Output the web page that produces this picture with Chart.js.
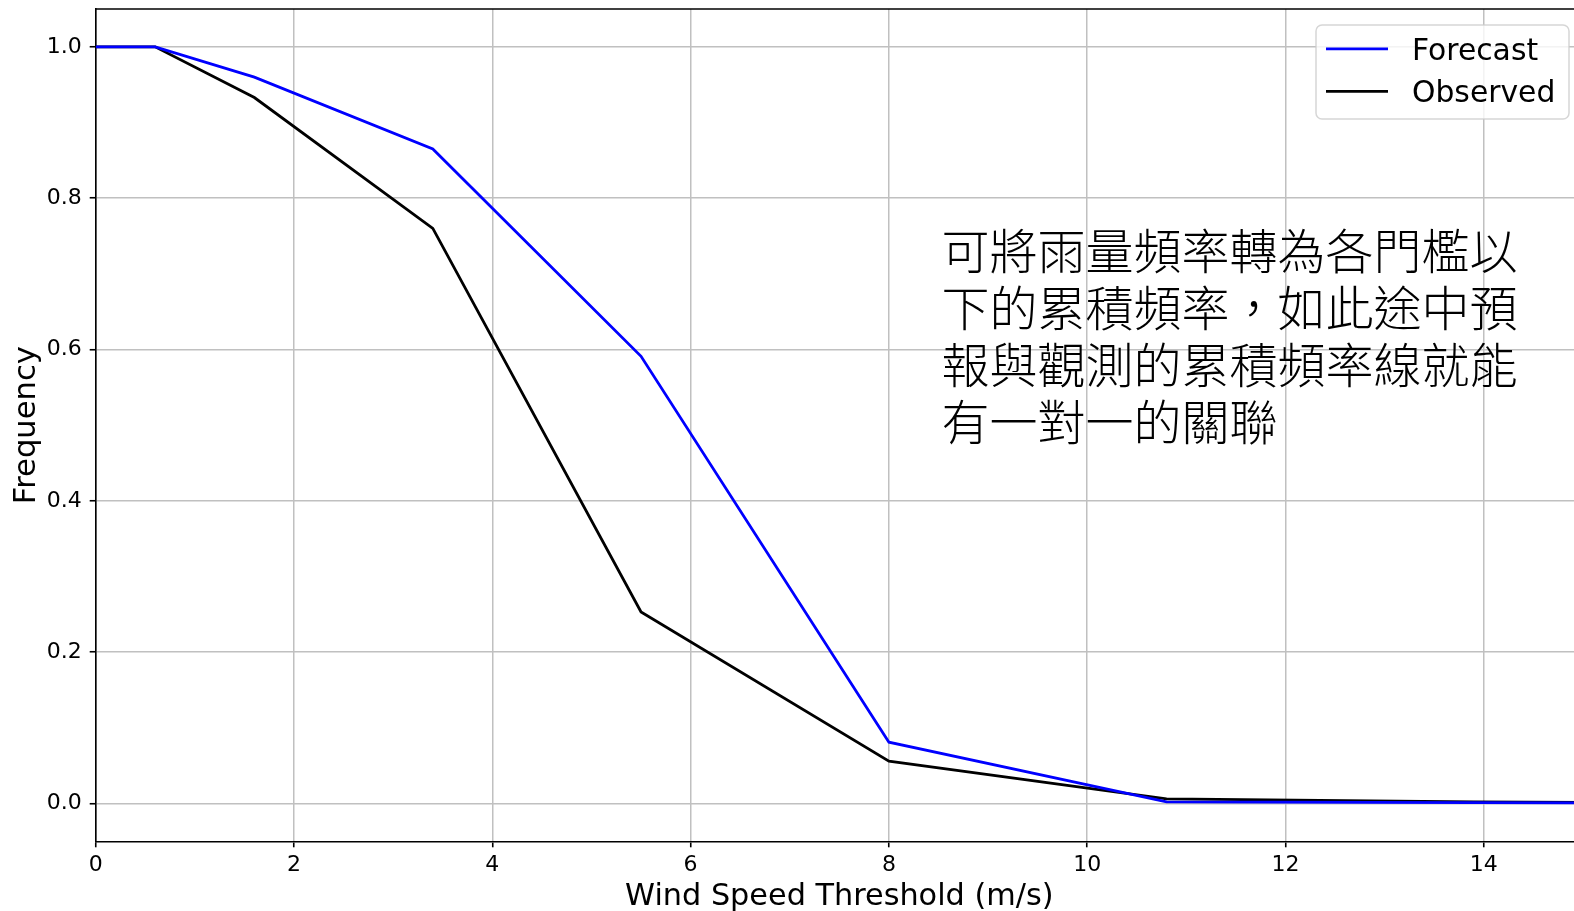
<!DOCTYPE html>
<html>
<head>
<meta charset="utf-8">
<script src="https://cdn.jsdelivr.net/npm/chart.js@4.4.1/dist/chart.umd.min.js"></script>
<style>
  html, body { margin: 0; padding: 0; background: #fff; overflow: hidden; }
  #wrap { width: 1584px; height: 911px; position: relative; }
</style>
</head>
<body>
<div id="wrap"><canvas id="chart"></canvas></div>
<script>
// wind speed thresholds (m/s) and cumulative frequency above each one
const thresholds = [0, 0.6, 1.6, 3.4, 5.5, 8.0, 10.8, 13.9, 17.2];
const forecastFreq = [1.0, 1.0, 0.960, 0.865, 0.591, 0.081, 0.002, 0.001, 0.0];
const observedFreq = [1.0, 1.0, 0.933, 0.760, 0.253, 0.056, 0.006, 0.002, 0.0];

const xTicks = [0, 2, 4, 6, 8, 10, 12, 14];
const yTicks = [0.0, 0.2, 0.4, 0.6, 0.8, 1.0];

const seriesNames = ['Forecast', 'Observed'];
const noteLines = [
    '可將雨量頻率轉為各門檻以',
    '下的累積頻率，如此途中預',
    '報與觀測的累積頻率線就能',
    '有一對一的關聯'
];

const FONT = '"DejaVu Sans", sans-serif';

function toPoints(xs, ys) {
    return xs.map((x, i) => ({ x: x, y: ys[i] }));
}

// top spine, legend box and the note text
const extras = {
    id: 'extras',
    afterDatasetsDraw(chart) {
        const ctx = chart.ctx;
        const area = chart.chartArea;
        const xs = chart.scales.x;
        const ys = chart.scales.y;

        ctx.save();
        ctx.strokeStyle = '#000';
        ctx.lineWidth = 1.6;
        ctx.beginPath();
        ctx.moveTo(area.left, area.top);
        ctx.lineTo(area.right, area.top);
        ctx.stroke();

        // note
        ctx.fillStyle = '#000';
        ctx.font = '300 48px "Noto Sans CJK TC", "Noto Sans CJK SC", sans-serif';
        ctx.textAlign = 'left';
        ctx.textBaseline = 'middle';
        const nx = xs.getPixelForValue(8.53);
        const ny = ys.getPixelForValue(0.730);
        noteLines.forEach((line, i) => {
            ctx.fillText(line, nx, ny + i * 57);
        });

        // legend
        const bx = 1316, by = 25, bw = 253, bh = 94, r = 6;
        ctx.beginPath();
        ctx.moveTo(bx + r, by);
        ctx.arcTo(bx + bw, by, bx + bw, by + bh, r);
        ctx.arcTo(bx + bw, by + bh, bx, by + bh, r);
        ctx.arcTo(bx, by + bh, bx, by, r);
        ctx.arcTo(bx, by, bx + bw, by, r);
        ctx.closePath();
        ctx.fillStyle = 'rgba(255,255,255,0.8)';
        ctx.fill();
        ctx.strokeStyle = 'rgba(204,204,204,0.8)';
        ctx.lineWidth = 1.5;
        ctx.stroke();

        ctx.font = '29.8px ' + FONT;
        ctx.textBaseline = 'middle';
        chart.data.datasets.forEach((ds, i) => {
            const ly = 48.8 + i * 42.6;
            ctx.strokeStyle = ds.borderColor;
            ctx.lineWidth = 2.8;
            ctx.beginPath();
            ctx.moveTo(1326, ly);
            ctx.lineTo(1388, ly);
            ctx.stroke();
            ctx.fillStyle = '#000';
            ctx.fillText(ds.label, 1412, ly + 3);
        });
        ctx.restore();
    }
};

const ctx = document.getElementById('chart').getContext('2d');
const chart = new Chart(ctx, {
    type: 'line',
    data: {
        datasets: [{
            label: seriesNames[0],
            data: toPoints(thresholds, forecastFreq),
            borderColor: '#0000ff',
            borderWidth: 2.8,
            pointRadius: 0,
            tension: 0,
            fill: false
        }, {
            label: seriesNames[1],
            data: toPoints(thresholds, observedFreq),
            borderColor: '#000000',
            borderWidth: 2.8,
            pointRadius: 0,
            tension: 0,
            fill: false
        }]
    },
    options: {
        responsive: true,
        maintainAspectRatio: false,
        devicePixelRatio: 1,
        animation: false,
        layout: { padding: { top: 9, right: 1, bottom: 0, left: 0 } },
        plugins: {
            legend: { display: false },
            tooltip: { enabled: false }
        },
        scales: {
            x: {
                type: 'linear',
                min: 0,
                max: 15,
                afterBuildTicks: scale => { scale.ticks = xTicks.map(v => ({ value: v })); },
                afterFit: scale => {
                    scale.height = 69.7;
                    scale.paddingLeft = 0;
                    scale.paddingRight = 0;
                },
                ticks: {
                    color: '#000',
                    font: { family: FONT, size: 22 },
                    padding: 5,
                    maxRotation: 0,
                    autoSkip: false,
                    callback: v => String(v)
                },
                grid: {
                    color: '#c0c0c0',
                    lineWidth: 1.5,
                    tickColor: '#000',
                    tickWidth: 1.6,
                    tickLength: 6
                },
                border: { color: '#000', width: 1.6 },
                title: {
                    display: true,
                    text: 'Wind Speed Threshold (m/s)',
                    color: '#000',
                    font: { family: FONT, size: 30.3, lineHeight: 0.92 },
                    padding: { top: 0, bottom: 0 }
                }
            },
            y: {
                type: 'linear',
                min: -0.05,
                max: 1.05,
                afterBuildTicks: scale => { scale.ticks = yTicks.map(v => ({ value: v })); },
                afterFit: scale => {
                    scale.width = 95.7;
                    scale.paddingTop = 0;
                    scale.paddingBottom = 0;
                },
                ticks: {
                    color: '#000',
                    font: { family: FONT, size: 22 },
                    padding: 8,
                    autoSkip: false,
                    callback: v => v.toFixed(1)
                },
                grid: {
                    color: '#c0c0c0',
                    lineWidth: 1.5,
                    tickColor: '#000',
                    tickWidth: 1.6,
                    tickLength: 6
                },
                border: { color: '#000', width: 1.6 },
                title: {
                    display: true,
                    text: 'Frequency',
                    color: '#000',
                    font: { family: FONT, size: 30.6, lineHeight: 1.1 },
                    padding: { top: 10.5, bottom: 0 }
                }
            }
        }
    },
    plugins: [extras]
});
</script>
</body>
</html>
